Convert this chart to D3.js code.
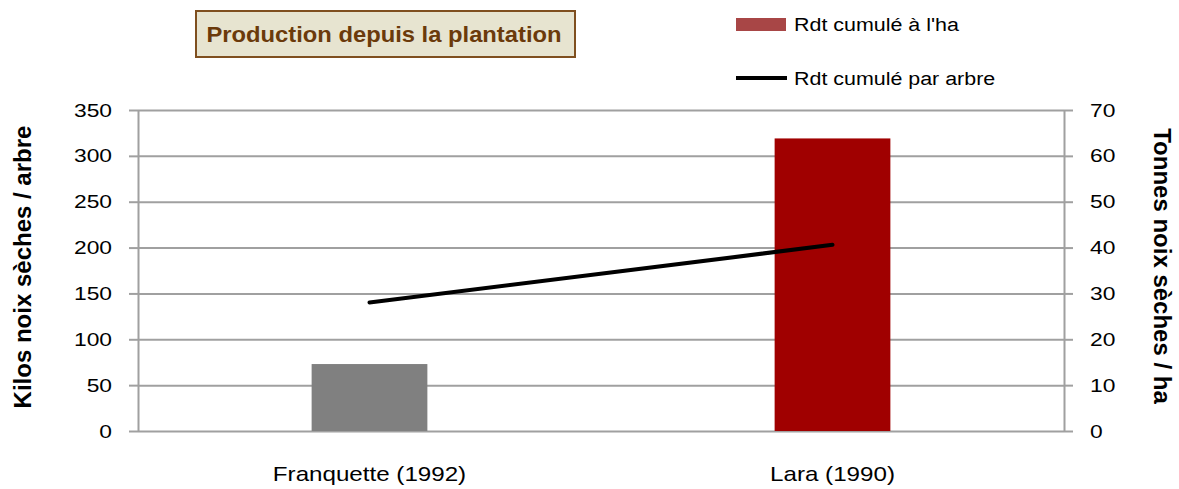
<!DOCTYPE html>
<html>
<head>
<meta charset="utf-8">
<script src="https://cdn.jsdelivr.net/npm/d3@7"></script>
<style>
  html, body { margin: 0; padding: 0; background: #fff; }
  svg { display: block; }
</style>
</head>
<body>
<div id="chart"></div>
<script>
// Production depuis la plantation – bars (t/ha, right axis) + line (kg/arbre, left axis)

const CATEGORIES = ["Franquette (1992)", "Lara (1990)"];
const RDT_HA = [14.6, 63.8];        // Tonnes noix sèches / ha
const RDT_ARBRE = [140, 203];       // Kilos noix sèches / arbre
const BAR_COLORS = ["#808080", "#a00000"];
const LEFT_TICKS = [0, 50, 100, 150, 200, 250, 300, 350];
const RIGHT_TICKS = [0, 10, 20, 30, 40, 50, 60, 70];
const SERIES_NAMES = ["Rdt cumulé à l'ha", "Rdt cumulé par arbre"];

const totalW = 1179, totalH = 489;
const margin = { top: 110, right: 115, bottom: 58, left: 138 };
const W = totalW - margin.left - margin.right;
const H = totalH - margin.top - margin.bottom;

const FONT = "'Liberation Sans', Arial, sans-serif";
const GRID = "#a0a0a0";

// widen a text a bit (the original is a horizontally stretched Calibri)
function stretch(sel, k) {
  sel.each(function () {
    const len = this.getComputedTextLength();
    d3.select(this).attr("textLength", len * k).attr("lengthAdjust", "spacingAndGlyphs");
  });
}

const svg = d3.select("#chart").append("svg")
  .attr("width", totalW).attr("height", totalH)
  .attr("viewBox", `0 0 ${totalW} ${totalH}`);

const g = svg.append("g").attr("transform", `translate(${margin.left},${margin.top})`);

/* ── Scales ── */
const x = d3.scaleBand().domain(CATEGORIES).range([0, W]);
const yL = d3.scaleLinear().domain([0, 350]).range([H, 0]);
const yR = d3.scaleLinear().domain([0, 70]).range([H, 0]);

/* ── Grid ── */
g.append("g")
  .call(d3.axisLeft(yL).tickValues(LEFT_TICKS).tickSize(-W).tickFormat(""))
  .call(ax => {
    ax.select(".domain").remove();
    ax.selectAll("line").attr("stroke", GRID).attr("stroke-width", 2);
  });

/* ── Bars ── */
const barW = x.bandwidth() * 0.25;
g.selectAll("rect.bar")
  .data(CATEGORIES.map((c, i) => ({ c, v: RDT_HA[i], color: BAR_COLORS[i] })))
  .join("rect")
  .attr("class", "bar")
  .attr("x", d => x(d.c) + x.bandwidth() / 2 - barW / 2)
  .attr("width", barW)
  .attr("y", d => yR(d.v))
  .attr("height", d => H - yR(d.v))
  .attr("fill", d => d.color);

/* ── Line ── */
const line = d3.line()
  .x(d => x(d.c) + x.bandwidth() / 2)
  .y(d => yL(d.v));
g.append("path")
  .datum(CATEGORIES.map((c, i) => ({ c, v: RDT_ARBRE[i] })))
  .attr("d", line)
  .attr("fill", "none")
  .attr("stroke", "#000")
  .attr("stroke-width", 4)
  .attr("stroke-linecap", "round");

/* ── Axes ── */
const styleAxis = ax => {
  ax.select(".domain").attr("stroke", GRID).attr("stroke-width", 2);
  ax.selectAll(".tick line").attr("stroke", GRID).attr("stroke-width", 2);
  ax.selectAll("text").attr("font-family", FONT).attr("font-size", 19).attr("fill", "#000");
};

g.append("g")
  .call(d3.axisLeft(yL).tickValues(LEFT_TICKS).tickSize(9).tickPadding(17).tickSizeOuter(0))
  .call(styleAxis)
  .call(ax => stretch(ax.selectAll("text"), 1.2));

g.append("g").attr("transform", `translate(${W},0)`)
  .call(d3.axisRight(yR).tickValues(RIGHT_TICKS).tickSize(9).tickPadding(17).tickSizeOuter(0))
  .call(styleAxis)
  .call(ax => stretch(ax.selectAll("text"), 1.2));

g.append("g").attr("transform", `translate(0,${H})`)
  .call(d3.axisBottom(x).tickSize(0).tickPadding(35))
  .call(ax => {
    ax.select(".domain").remove();
    ax.selectAll("text").attr("font-family", FONT).attr("font-size", 21).attr("fill", "#000");
  })
  .call(ax => stretch(ax.selectAll("text"), 1.15));

/* ── Axis titles ── */
svg.append("text")
  .attr("transform", `translate(31,${margin.top + 157}) rotate(-90)`)
  .attr("text-anchor", "middle")
  .attr("font-family", FONT).attr("font-weight", "bold").attr("font-size", 24)
  .text("Kilos noix sèches / arbre");

svg.append("text")
  .attr("transform", `translate(1154,${margin.top + 156}) rotate(90)`)
  .attr("text-anchor", "middle")
  .attr("font-family", FONT).attr("font-weight", "bold").attr("font-size", 24)
  .text("Tonnes noix sèches / ha");

/* ── Title box ── */
const title = svg.append("g");
title.append("rect")
  .attr("x", 196).attr("y", 11).attr("width", 379).attr("height", 46)
  .attr("fill", "#e7e4d0").attr("stroke", "#7f4f1f").attr("stroke-width", 2);
title.append("text")
  .attr("x", 384).attr("y", 42)
  .attr("text-anchor", "middle")
  .attr("font-family", FONT).attr("font-weight", "bold").attr("font-size", 22)
  .attr("fill", "#6b3a0b")
  .text("Production depuis la plantation")
  .call(t => stretch(t, 1.08));

/* ── Legend ── */
const legend = svg.append("g").attr("transform", "translate(736,18)");
legend.append("rect").attr("width", 50).attr("height", 13).attr("fill", "#a84646");
legend.append("text").attr("x", 58).attr("y", 13)
  .attr("font-family", FONT).attr("font-size", 18).text(SERIES_NAMES[0])
  .call(t => stretch(t, 1.19));
legend.append("line").attr("x1", 0).attr("x2", 51).attr("y1", 60).attr("y2", 60)
  .attr("stroke", "#000").attr("stroke-width", 4);
legend.append("text").attr("x", 58).attr("y", 67)
  .attr("font-family", FONT).attr("font-size", 18).text(SERIES_NAMES[1])
  .call(t => stretch(t, 1.19));
</script>
</body>
</html>
